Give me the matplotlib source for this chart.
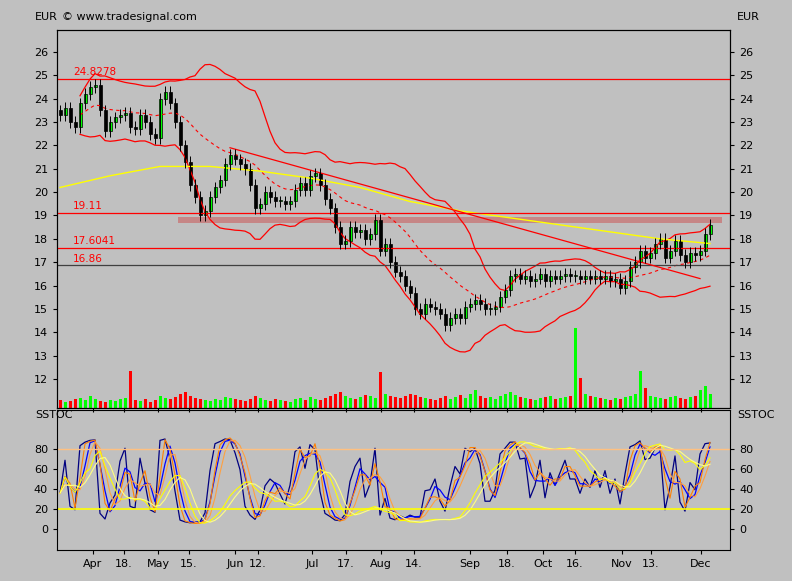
import matplotlib
matplotlib.use("Agg")
import matplotlib.pyplot as plt
import numpy as np
import pandas as pd

closes = [23.3,23.6,23.0,22.8,23.8,24.2,24.5,24.6,23.5,22.6,23.0,23.2,23.3,23.4,22.8,22.7,23.3,23.0,22.5,22.3,
24.0,24.3,23.8,23.0,22.0,21.3,20.3,19.8,19.0,19.2,19.8,20.2,20.5,21.2,21.6,21.4,21.2,21.0,20.3,19.3,
19.5,20.0,19.8,19.6,19.6,19.5,19.6,20.1,20.4,20.1,20.7,20.8,20.3,19.7,19.3,18.5,17.8,17.9,18.5,18.3,
18.4,18.0,18.2,18.8,17.5,17.8,17.0,16.6,16.4,16.0,15.7,15.0,14.8,15.2,15.1,15.0,14.8,14.3,14.6,14.8,
14.6,15.1,15.2,15.4,15.2,15.0,15.0,15.1,15.5,15.8,16.4,16.5,16.3,16.4,16.2,16.3,16.5,16.2,16.4,16.3,
16.4,16.5,16.4,16.4,16.3,16.4,16.3,16.4,16.3,16.4,16.2,16.3,15.9,16.2,16.8,17.0,17.5,17.2,17.4,17.8,
18.0,17.2,17.5,17.9,17.3,17.0,17.4,17.3,17.5,18.2,18.6]
volumes = [8,6,7,9,10,8,12,9,7,6,8,7,9,10,37,8,7,9,6,8,
12,10,9,11,14,16,12,10,9,8,7,9,8,11,10,9,8,7,9,12,
10,8,7,9,8,7,6,9,10,8,11,9,8,10,12,14,16,12,10,9,
11,13,12,10,36,14,12,11,10,12,14,13,11,10,9,8,10,12,9,11,
13,10,14,18,12,10,11,9,12,14,16,13,11,10,9,8,10,11,12,9,
10,11,12,80,30,14,12,11,10,9,8,10,9,11,12,14,37,20,12,11,
10,9,11,12,10,9,11,12,18,22,14]
yellow_x = [0,10,20,30,40,50,60,70,80,90,100,110,120,130]
yellow_v = [20.2,20.7,21.1,21.1,20.9,20.6,20.2,19.6,19.2,18.9,18.6,18.3,18.0,17.8]
hlines = [24.8278, 19.11, 17.6041, 16.86]
hlabels = ["24.8278", "19.11", "17.6041", "16.86"]
tick_px = [93,124,158,189,235,258,312,346,381,414,470,507,543,575,622,651,701]
tick_lbl = ["Apr","18.","May","15.","Jun","12.","Jul","17.","Aug","14.","Sep","18.","Oct","16.","Nov","13.","Dec"]

BG = "#c0c0c0"
c = pd.Series(closes)
n = len(c)
o = c.shift(1).fillna(c.iloc[0]+0.2)
hi = np.maximum(o, c) + 0.25
lo = np.minimum(o, c) - 0.25
x = np.arange(n)
def px2i(p): return (p - 60) / 5.0

fig = plt.figure(figsize=(7.92, 5.81), dpi=100, facecolor=BG)
ax = fig.add_axes([57/792, 1-408/581, 673/792, 378/581], facecolor=BG)
ax2 = fig.add_axes([57/792, 1-550/581, 673/792, 140/581], facecolor=BG)
xmin, xmax = px2i(57), px2i(730)

# volume
axv = ax.twinx()
axv.set_ylim(0, 378)
vc = ["#00ff00" if c[i] >= o[i] else "#ff0000" for i in range(n)]
axv.bar(x, volumes, width=0.6, color=vc, edgecolor="none")
axv.set_yticks([])
axv.set_xlim(xmin, xmax)

# bollinger
mid = c.rolling(20, min_periods=5).mean()
sd = c.rolling(20, min_periods=5).std()
ax.plot(x, mid, color="red", lw=0.8, ls=(0, (3, 3)))
ax.plot(x, mid+2*sd, color="red", lw=0.9)
ax.plot(x, mid-2*sd, color="red", lw=0.9)
ax.plot(yellow_x, yellow_v, color="yellow", lw=1)
for v, l, col in zip(hlines, hlabels, ["red","red","red","#404040"]):
    ax.axhline(v, color=col, lw=0.9)
    ax.text(px2i(73), v+0.08, l, color="red", fontsize=7.5, va="bottom")
ax.fill_between([px2i(178), px2i(722)], 18.7, 18.95, color="#c87878", alpha=0.8, lw=0)
ax.plot([px2i(230), px2i(700)], [21.9, 16.3], color="red", lw=0.9)

# candles
for i in range(n):
    ax.vlines(i, lo[i], hi[i], color="black", lw=0.7)
    up = c[i] >= o[i]
    b = min(o[i], c[i]); h = max(abs(c[i]-o[i]), 0.05)
    ax.bar(i, h, bottom=b, width=0.6, color="#00ff00" if up else "black", edgecolor="black", lw=0.5)

ax.set_xlim(xmin, xmax)
ax.set_ylim(10.76, 26.94)
ax.set_yticks(range(12, 27))
ax.tick_params(axis="y", labelleft=True, labelright=True, left=True, right=True, labelsize=8, length=3)
ax.set_xticks([px2i(p) for p in tick_px]); ax.set_xticklabels([])
ax.tick_params(axis="x", length=3)
ax.set_zorder(axv.get_zorder()+1); ax.patch.set_visible(False)
fig.text(35/792, 1-17/581, "EUR", fontsize=8, va="center")
fig.text(737/792, 1-17/581, "EUR", fontsize=8, va="center")
fig.text(62/792, 1-17/581, "© www.tradesignal.com", fontsize=8, va="center")

# stochastics
def stoch(k, s):
    hh = pd.Series(hi).rolling(k, min_periods=1).max()
    ll = pd.Series(lo).rolling(k, min_periods=1).min()
    fk = 100*(c-ll)/(hh-ll)
    sk = fk.rolling(s, min_periods=1).mean()
    return sk, sk.rolling(3, min_periods=1).mean()
k1, d1 = stoch(4, 1)
k2, d2 = stoch(5, 2)
k3, d3 = stoch(14, 5)
ax2.plot(x, k1, color="#000080", lw=0.9)
ax2.plot(x, d1, color="#0000ff", lw=0.9)
ax2.plot(x, k2, color="#ff8000", lw=0.8)
ax2.plot(x, d2, color="#ffa040", lw=0.8)
ax2.plot(x, k3, color="yellow", lw=0.8)
ax2.plot(x, d3, color="#ffff80", lw=0.8)
ax2.axhline(80, color="#ffc080", lw=1)
ax2.axhline(20, color="yellow", lw=1.2)
ax2.set_xlim(xmin, xmax)
ax2.set_ylim(-21, 119)
ax2.set_yticks(range(0, 81, 20))
ax2.tick_params(axis="y", labelleft=True, labelright=True, left=True, right=True, labelsize=8, length=3)
ax2.set_xticks([px2i(p) for p in tick_px]); ax2.set_xticklabels(tick_lbl, fontsize=8)
ax2.tick_params(axis="x", length=3)
fig.text(35/792, 1-415/581, "SSTOC", fontsize=8, va="center")
fig.text(737/792, 1-415/581, "SSTOC", fontsize=8, va="center")
fig.savefig("out.png", dpi=100, facecolor=BG)
